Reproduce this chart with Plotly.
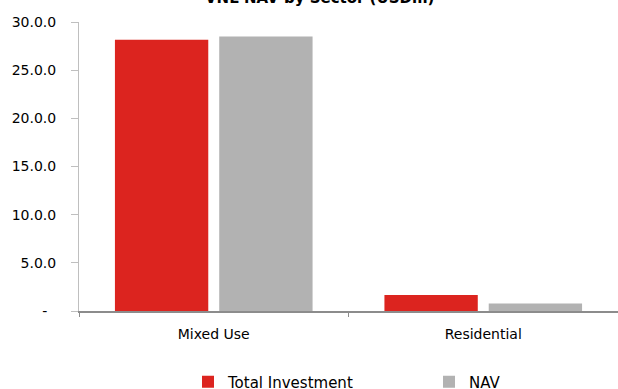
import plotly.graph_objects as go

categories = ["Mixed Use", "Residential"]
total_investment = [28.17, 1.66]
nav = [28.5, 0.77]
ytick_vals = [0, 5, 10, 15, 20, 25, 30]
ytick_text = ["-\u00a0\u00a0", "5.0.0", "10.0.0", "15.0.0", "20.0.0", "25.0.0", "30.0.0"]
title_text = "VNL NAV by Sector (USDm)"

FONT = "DejaVu Sans, sans-serif"

fig = go.Figure()
fig.add_trace(go.Bar(name="Total Investment", x=categories, y=total_investment,
                     marker=dict(color="#DC241F", line=dict(width=0))))
fig.add_trace(go.Bar(name="NAV", x=categories, y=nav,
                     marker=dict(color="#B2B2B2", line=dict(width=0))))

fig.update_layout(
    width=618, height=389,
    margin=dict(l=79, r=0, t=22, b=78),
    paper_bgcolor="white", plot_bgcolor="white",
    barmode="group", bargap=0.226, bargroupgap=0.105,
    font=dict(family=FONT, size=14, color="#000000"),
    showlegend=True,
    legend=dict(orientation="h", xref="container", yref="container",
                x=188 / 618, xanchor="left", y=1 - 382 / 389, yanchor="middle",
                font=dict(family=FONT, size=15, color="#000000"),
                entrywidth=196, entrywidthmode="pixels",
                bgcolor="rgba(0,0,0,0)"),
    annotations=[dict(text="<b>" + title_text + "</b>", xref="paper", yref="paper",
                      x=0.446, y=1.044, xanchor="center", yanchor="bottom",
                      showarrow=False, font=dict(family=FONT, size=15, color="#000000"))],
)
fig.update_xaxes(showline=True, linecolor="#8C8C8C", linewidth=1.5,
                 ticks="outside", tickson="boundaries", ticklen=4, tickcolor="#8C8C8C",
                 ticklabelstandoff=9,
                 showgrid=False, zeroline=False)
fig.update_yaxes(range=[0, 30], tickvals=ytick_vals, ticktext=ytick_text,
                 showline=True, linecolor="#BFBFBF", linewidth=1,
                 ticks="outside", ticklen=7, tickcolor="#BFBFBF",
                 ticklabelstandoff=12, showgrid=False, zeroline=False)

fig.write_html("out.html")
